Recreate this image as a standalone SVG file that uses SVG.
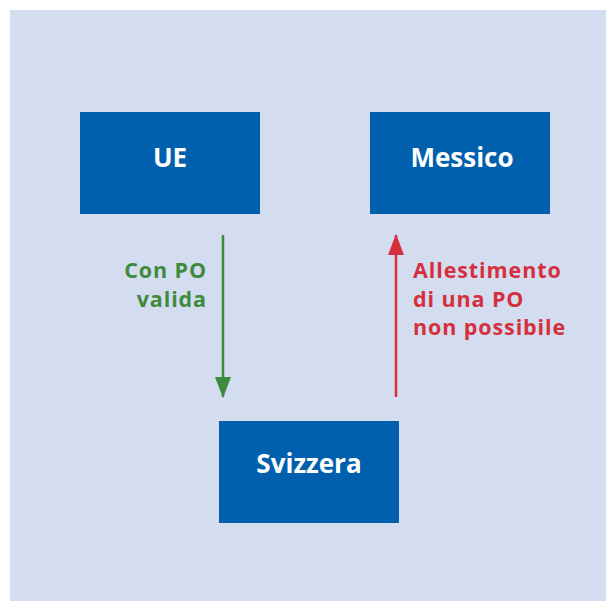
<svg xmlns="http://www.w3.org/2000/svg" width="606" height="601" viewBox="0 0 606 601">
<style>
.box{fill:#0060AD}
.lbl{font-family:"Open Sans","Noto Sans","Liberation Sans",sans-serif;font-weight:700;font-size:26px;fill:#FFFFFF;text-anchor:middle}
.note{font-family:"Open Sans","Noto Sans","Liberation Sans",sans-serif;font-weight:700;font-size:21.5px;letter-spacing:0.9px}
.green{fill:#3D8B3E}
.red{fill:#D62F3C}
</style>
<defs>
<marker id="ag" markerUnits="userSpaceOnUse" markerWidth="21" markerHeight="16" refX="20" refY="8" orient="auto" viewBox="0 0 21 16">
<path d="M0,0 L21,8 L0,16 Z" fill="#3D8B3E"/>
</marker>
<marker id="ar" markerUnits="userSpaceOnUse" markerWidth="21" markerHeight="16" refX="20" refY="8" orient="auto" viewBox="0 0 21 16">
<path d="M0,0 L21,8 L0,16 Z" fill="#D62F3C"/>
</marker>
</defs>
<rect x="10" y="10" width="596" height="591" fill="#D4DCF0"/>
<g id="UE">
<rect class="box" x="80" y="112" width="180" height="102"/>
<text class="lbl" x="170" y="166.5">UE</text>
</g>
<g id="Messico">
<rect class="box" x="370" y="112" width="180" height="102"/>
<text class="lbl" x="462" y="166.5">Messico</text>
</g>
<g id="Svizzera">
<rect class="box" x="219" y="421" width="180" height="102"/>
<text class="lbl" x="309" y="473">Svizzera</text>
</g>
<g id="connectors">
<line x1="223" y1="235" x2="223" y2="397" stroke="#3D8B3E" stroke-width="2.5" marker-end="url(#ag)"/>
<line x1="396" y1="397" x2="396" y2="235" stroke="#D62F3C" stroke-width="2.5" marker-end="url(#ar)"/>
<text class="note green" text-anchor="end"><tspan x="207" y="278">Con PO</tspan><tspan x="207" y="307">valida</tspan></text>
<text class="note red"><tspan x="413" y="278">Allestimento</tspan><tspan x="413" y="306.5">di una PO</tspan><tspan x="413" y="335">non possibile</tspan></text>
</g>
</svg>
